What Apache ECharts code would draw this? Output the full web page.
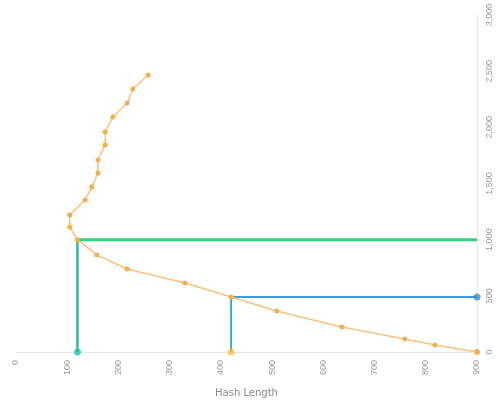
<!DOCTYPE html>
<html><head><meta charset="utf-8">
<script src="https://cdn.jsdelivr.net/npm/echarts@6/dist/echarts.min.js"></script>
<style>html,body{margin:0;padding:0;background:#fff}#c{width:498px;height:405px}</style>
</head><body><div id="c"></div>
<script>
// data
var curveX = [258, 228, 217, 189, 174, 174, 160, 160, 148, 135, 105, 105, 120, 158, 217, 330, 420, 509, 636, 759, 818, 900];
var curveY = [2466, 2341, 2217, 2092, 1958, 1843, 1709, 1593, 1469, 1353, 1220, 1113, 1000, 863, 739, 614, 490, 365, 222, 116, 62, 0];
var markA = [120, 1000];   // green marker
var markB = [420, 490];    // blue marker
var xMax = 900, yMax = 3000;
var xTicks = [0,100,200,300,400,500,600,700,800,900];
var yTicks = [0,500,1000,1500,2000,2500,3000];
var xName = 'Hash Length';

var curve = curveX.map(function(x,i){return [x, curveY[i]];});
var chart = echarts.init(document.getElementById('c'));
chart.setOption({
  animation:false,
  backgroundColor:'#fff',
  grid:{left:16,right:21,top:15,bottom:53},
  xAxis:{type:'value',min:0,max:xMax,interval:100,
    name:xName,nameLocation:'middle',nameGap:36,
    nameTextStyle:{color:'#888',fontSize:10,fontFamily:'DejaVu Sans'},
    axisLine:{show:true,lineStyle:{color:'#e6e6e6'}},axisTick:{show:false},
    splitLine:{show:false},
    axisLabel:{rotate:90,color:'#999',fontSize:9,margin:8}},
  yAxis:{type:'value',position:'right',min:0,max:yMax,interval:500,
    axisLine:{show:true,onZero:false,lineStyle:{color:'#e6e6e6'}},axisTick:{show:false},
    splitLine:{show:false},
    axisLabel:{rotate:90,color:'#999',fontSize:9,margin:8}},
  series:[
    {type:'line',data:[[markA[0],markA[1]],[xMax,markA[1]]],symbol:'none',
     lineStyle:{color:'#2ed47a',width:3},z:3},
    {type:'line',data:[[markA[0],markA[1]],[markA[0],0]],symbol:'none',
     lineStyle:{color:'#26bfa6',width:2.5},z:3},
    {type:'line',data:[[markB[0],markB[1]],[xMax,markB[1]]],symbol:'none',
     lineStyle:{color:'#3b9bd6',width:2},z:3},
    {type:'line',data:[[markB[0],markB[1]],[markB[0],0]],symbol:'none',
     lineStyle:{color:'#3aa9c4',width:2},z:3},
    {type:'line',data:curve,symbol:'circle',symbolSize:5,
     itemStyle:{color:'#f2b04a'},lineStyle:{color:'#f6c07e',width:1.5},z:4},
    {type:'scatter',data:[[markA[0],0]],symbolSize:7,itemStyle:{color:'#26bfb4'},z:5},
    {type:'scatter',data:[[markB[0],0]],symbolSize:7,itemStyle:{color:'#f5c04a'},z:5},
    {type:'scatter',data:[[xMax,markB[1]]],symbolSize:7,itemStyle:{color:'#3a8fd0'},z:5},
    {type:'scatter',data:[[xMax,0]],symbolSize:6,itemStyle:{color:'#f2b04a'},z:5}
  ]
});
</script></body></html>
